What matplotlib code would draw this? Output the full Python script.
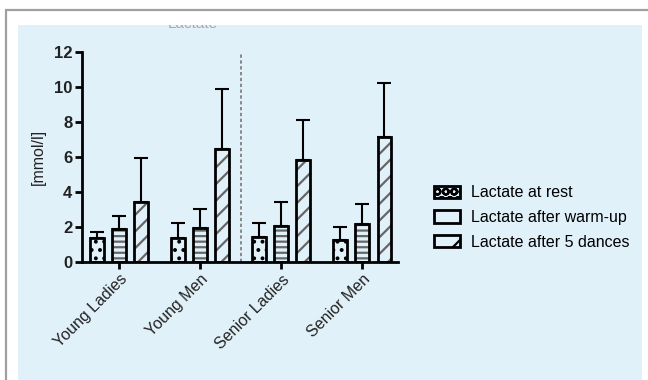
import matplotlib.pyplot as plt
from matplotlib.patches import Rectangle, Patch
from matplotlib.transforms import Bbox
import numpy as np

plt.rcParams['font.family'] = ['Liberation Sans', 'DejaVu Sans']
plt.rcParams['hatch.linewidth'] = 1.6

# lactate data (mean and SD), mmol/l
groups = ['Young Ladies', 'Young Men', 'Senior Ladies', 'Senior Men']
series = ['Lactate at rest', 'Lactate after warm-up', 'Lactate after 5 dances']
rest_mean = [1.38, 1.37, 1.45, 1.26]
rest_sd = [0.35, 0.84, 0.76, 0.72]
warmup_mean = [1.89, 1.96, 2.07, 2.17]
warmup_sd = [0.74, 1.05, 1.34, 1.14]
dances_mean = [3.45, 6.46, 5.83, 7.16]
dances_sd = [2.48, 3.43, 2.28, 3.05]

means = [rest_mean, warmup_mean, dances_mean]
sds = [rest_sd, warmup_sd, dances_sd]
hatches = ['..', '---', '//']
hatch_cols = ['black', '#666666', '#666666']

panel = '#e1f1fa'

fig = plt.figure(figsize=(6.48, 3.80), dpi=100)
W, H = 648, 380

# outer frame and light blue panel
fig.patches.append(Rectangle((6 / W, -0.1), 1.2, (370 / H) + 0.1,
                             transform=fig.transFigure, fill=False,
                             edgecolor='#a0a0a0', lw=1.6, zorder=-2))
fig.patches.append(Rectangle((18 / W, 0), 624 / W, 355 / H,
                             transform=fig.transFigure, facecolor=panel,
                             edgecolor='none', zorder=-1))

# title sits mostly above the panel and only its lower edge shows
t = fig.text(193 / W, 1 - 24 / H, 'Lactate', ha='center', va='center',
             fontsize=11, color='#a8a8a8', zorder=-0.5, clip_on=True)
t.set_clip_box(Bbox.from_extents(18, 0, 642, 355))

ax = fig.add_axes([82 / W, 1 - 262 / H, 316 / W, 210 / H])
ax.set_facecolor('none')

x = np.arange(len(groups))
step = 0.272
width = 0.17
for i in range(3):
    pos = x + (i - 1) * step
    ax.bar(pos, means[i], width, color='none', edgecolor=hatch_cols[i],
           hatch=hatches[i], lw=0, zorder=2)
    ax.bar(pos, means[i], width, color='none', edgecolor='black', lw=2.0,
           zorder=3)
    ax.errorbar(pos, means[i], yerr=[np.zeros(4), sds[i]], fmt='none',
                ecolor='black', elinewidth=1.5, capsize=5, capthick=1.5,
                zorder=1)

ax.axvline(1.5, color='#777777', lw=1.2, ls=(0, (2, 1.5)), zorder=1)

ax.set_xlim(-0.46, 3.44)
ax.set_ylim(0, 12)
ax.set_yticks(range(0, 13, 2))
ax.set_xticks(x)
ax.set_xticklabels(groups, rotation=45, ha='right', va='top',
                   rotation_mode='anchor', fontsize=11.5, color='#222222')
for lab in ax.get_yticklabels():
    lab.set_fontweight('bold')
    lab.set_fontsize(12)
    lab.set_color('#222222')
ax.set_ylabel('[mmol/l]', fontsize=11.5, color='#222222', labelpad=6)

for s in ['top', 'right']:
    ax.spines[s].set_visible(False)
for s in ['left', 'bottom']:
    ax.spines[s].set_linewidth(2.0)
ax.tick_params(axis='both', width=2.0, length=5, pad=2)
ax.spines['left'].set_bounds(0, 12)

handles = [Patch(facecolor='none', edgecolor='black', hatch=h, lw=2.0)
           for h in ['OO', '', '/']]
fig.legend(handles, series, loc='upper left',
           bbox_to_anchor=(420 / W, 1 - 171 / H), frameon=False,
           fontsize=11.5, handlelength=1.6, handleheight=0.8,
           labelspacing=0.6, handletextpad=0.7)

fig.savefig('out.png', dpi=100)
